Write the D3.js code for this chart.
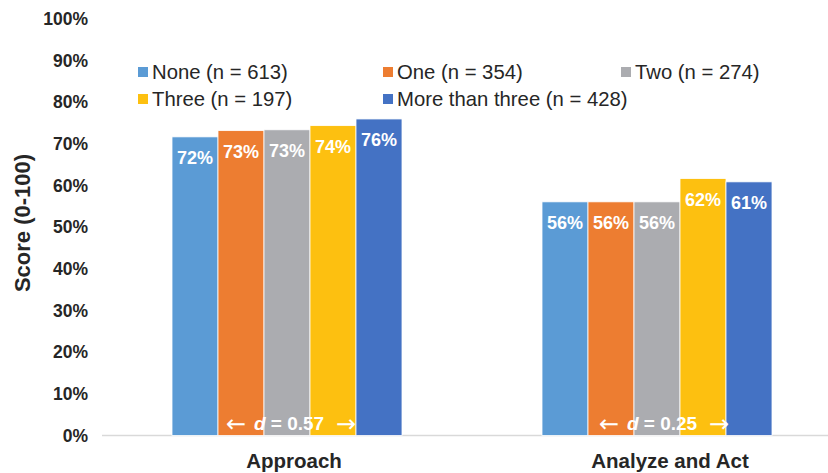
<!DOCTYPE html>
<html>
<head>
<meta charset="utf-8">
<script src="https://cdn.jsdelivr.net/npm/d3@7"></script>
<style>
  html, body { margin: 0; padding: 0; background: #fff; }
  svg { display: block; font-family: "Liberation Sans", Arial, Helvetica, sans-serif; }
</style>
</head>
<body>
<svg id="chart" width="828" height="473"></svg>
<script>
// Categories on the x axis
const categories = ["Approach", "Analyze and Act"];
// Series (number of experiences) and their sample sizes
const seriesNames = ["None", "One", "Two", "Three", "More than three"];
const seriesN = [613, 354, 274, 197, 428];
const seriesColors = ["#5B9BD5", "#ED7D31", "#ABACB0", "#FDC010", "#4472C4"];
// Scores (%) per series, in category order
const noneValues = [71.7, 56.1];
const oneValues = [73.2, 56.1];
const twoValues = [73.4, 56.1];
const threeValues = [74.4, 61.7];
const moreValues = [76.0, 60.9];
// Effect sizes per category
const effectSizes = ["0.57", "0.25"];
// Y axis ticks
const yTicks = [0, 10, 20, 30, 40, 50, 60, 70, 80, 90, 100];

const seriesValues = [noneValues, oneValues, twoValues, threeValues, moreValues];

const svg = d3.select("#chart");
const width = 828;
const margin = { left: 102, top: 19, bottom: 435.5 };
const plotRight = 842;

const x = d3.scaleBand().domain(categories).range([margin.left, plotRight]);
const groupWidth = 230;
const xInner = d3.scaleBand().domain(seriesNames).range([0, groupWidth]);
const y = d3.scaleLinear().domain([0, 100]).range([margin.bottom, margin.top]);

// Baseline
svg.append("line")
  .attr("x1", margin.left).attr("x2", width)
  .attr("y1", y(0)).attr("y2", y(0))
  .attr("stroke", "#d9d9d9").attr("stroke-width", 1.5);

// Y axis (labels only)
const yAxis = d3.axisLeft(y).tickValues(yTicks).tickFormat(d => d + "%").tickSize(0).tickPadding(0);
const yG = svg.append("g").attr("transform", "translate(88,0)").call(yAxis);
yG.select(".domain").remove();
yG.selectAll("text")
  .attr("font-size", 17.5).attr("font-weight", "bold").attr("fill", "#262626")
  .attr("font-family", "'Liberation Sans', Arial, sans-serif");

// Y axis title
svg.append("text")
  .attr("transform", "translate(30,223) rotate(-90)")
  .attr("text-anchor", "middle")
  .attr("font-size", 22).attr("font-weight", "bold").attr("fill", "#262626")
  .text("Score (0-100)");

// X axis category labels (nudged slightly right of the group centres)
const labelShift = [7, 13];
const xAxis = d3.axisBottom(x).tickSize(0).tickPadding(0);
const xG = svg.append("g").attr("transform", `translate(0,${y(0) + 18})`).call(xAxis);
xG.select(".domain").remove();
xG.selectAll("text")
  .attr("dy", "0.71em")
  .attr("dx", (d, i) => labelShift[i])
  .attr("font-size", 20.5).attr("font-weight", "bold").attr("fill", "#262626")
  .attr("font-family", "'Liberation Sans', Arial, sans-serif");

// Bars
const bars = [];
categories.forEach((c, ci) => {
  seriesNames.forEach((s, si) => {
    bars.push({ cat: c, series: s, si, value: seriesValues[si][ci] });
  });
});

const groupLeft = c => x(c) + x.bandwidth() / 2 - groupWidth / 2;

svg.append("g").selectAll("rect").data(bars).join("rect")
  .attr("x", d => groupLeft(d.cat) + xInner(d.series))
  .attr("width", xInner.bandwidth())
  .attr("y", d => y(d.value))
  .attr("height", d => y(0) - y(d.value))
  .attr("fill", d => seriesColors[d.si])
  .attr("stroke", "#fff").attr("stroke-width", 0.8);

// Value labels inside the bars
svg.append("g").selectAll("text").data(bars).join("text")
  .attr("x", d => groupLeft(d.cat) + xInner(d.series) + xInner.bandwidth() / 2)
  .attr("y", d => y(d.value) + 27)
  .attr("text-anchor", "middle")
  .attr("font-size", 18).attr("font-weight", "bold").attr("fill", "#fff")
  .text(d => Math.round(d.value) + "%");

// Effect size annotations: "← d = x →" near the bottom of each group
const effectShift = [4, 7];
categories.forEach((c, ci) => {
  const cx = x(c) + x.bandwidth() / 2 + effectShift[ci];
  const g = svg.append("g").attr("fill", "#fff");
  g.append("text")
    .attr("x", cx - 55).attr("y", 432)
    .attr("text-anchor", "middle")
    .attr("font-family", "'DejaVu Sans', sans-serif")
    .attr("font-size", 24)
    .text("\u2190");
  const t = g.append("text")
    .attr("x", cx - 2).attr("y", 430)
    .attr("text-anchor", "middle")
    .attr("font-size", 19).attr("font-weight", "bold")
    .attr("xml:space", "preserve");
  t.append("tspan").attr("font-style", "italic").text("d");
  t.append("tspan").text(" = " + effectSizes[ci]);
  g.append("text")
    .attr("x", cx + 55).attr("y", 432)
    .attr("text-anchor", "middle")
    .attr("font-family", "'DejaVu Sans', sans-serif")
    .attr("font-size", 24)
    .text("\u2192");
});

// Legend
const legendPos = [
  { x: 138, y: 72 }, { x: 383, y: 72 }, { x: 621, y: 72 },
  { x: 138, y: 99 }, { x: 383, y: 99 }
];
const legend = svg.append("g").selectAll("g").data(seriesNames).join("g")
  .attr("transform", (d, i) => `translate(${legendPos[i].x},${legendPos[i].y})`);
legend.append("rect")
  .attr("x", 0).attr("y", -5).attr("width", 10).attr("height", 10)
  .attr("fill", (d, i) => seriesColors[i]);
legend.append("text")
  .attr("x", 14).attr("y", 0).attr("dy", "0.35em")
  .attr("font-size", 20.3).attr("fill", "#262626")
  .text((d, i) => `${d} (n = ${seriesN[i]})`);
</script>
</body>
</html>
